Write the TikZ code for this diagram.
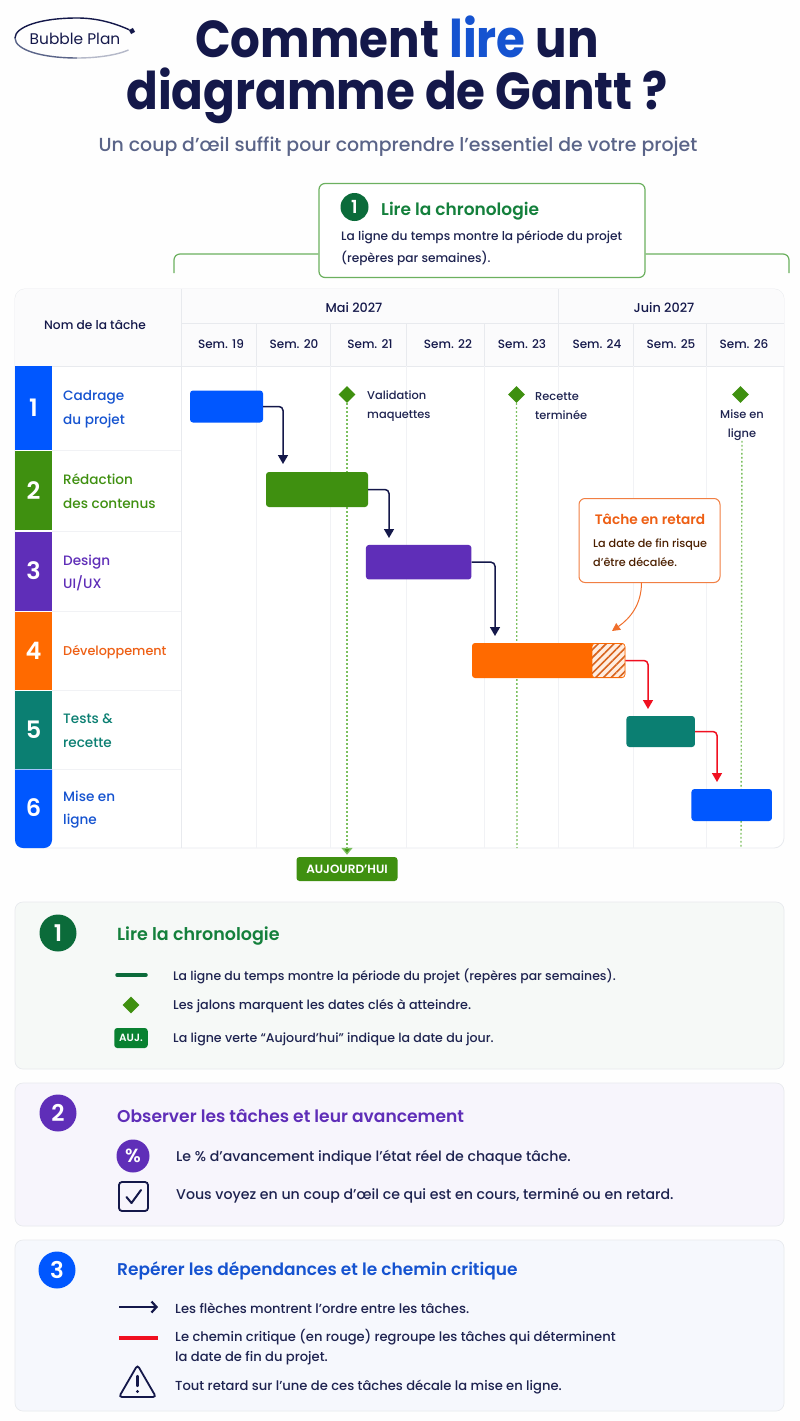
\documentclass[tikz,border=0pt]{standalone}
\usepackage{fontspec}
\usetikzlibrary{arrows.meta,shapes.geometric,patterns.meta}
\setmainfont{Poppins}[UprightFont=* Medium,BoldFont=* SemiBold]
\newfontfamily\titlefont[FakeStretch=0.9]{Poppins}
\newfontfamily\logofont{Poppins}
\definecolor{ink}{HTML}{14184A}
\definecolor{inkbody}{HTML}{1E2350}
\definecolor{subtle}{HTML}{5A6488}
\definecolor{grille}{HTML}{E8EAEE}
\definecolor{grillepale}{HTML}{F1F2F5}
\definecolor{entete}{HTML}{FBFBFC}
\definecolor{bleu}{HTML}{0057FF}
\definecolor{bleutexte}{HTML}{1553D0}
\definecolor{vert}{HTML}{3F9010}
\definecolor{violet}{HTML}{5F2EB8}
\definecolor{orange}{HTML}{FF6A00}
\definecolor{orangetexte}{HTML}{EE5F14}
\definecolor{hachure}{HTML}{D8641E}
\definecolor{sarcelle}{HTML}{0B7F72}
\definecolor{rouge}{HTML}{F01020}
\definecolor{vertsombre}{HTML}{0B6B3A}
\definecolor{verttexte}{HTML}{14803C}
\definecolor{pointille}{HTML}{7CC060}
\definecolor{cadrevert}{HTML}{6CB05F}
\definecolor{fondvert}{HTML}{F6F9F7}
\definecolor{fondviolet}{HTML}{F7F5FC}
\definecolor{fondbleu}{HTML}{F6F8FD}
\tikzset{
  txt/.style={inner sep=0pt,anchor=west,align=left,text=inkbody,yshift=-1.2pt},
  mid/.style={inner sep=0pt,align=center,text=ink},
  rowblock/.style={inner sep=0pt,minimum width=37pt,text=white,font=\fontsize{24}{28}\selectfont\bfseries},
  rowlabel/.style={txt,font=\fontsize{13.6}{23.5}\selectfont},
  week/.style={mid,font=\fontsize{12}{15}\selectfont},
  milestonelabel/.style={txt,font=\fontsize{11.4}{19}\selectfont},
  bar/.style={rectangle,rounded corners=3pt,inner sep=0pt},
  jalon/.style={diamond,fill=vert,inner sep=0pt,minimum width=17pt,minimum height=17pt},
  depline/.style={ink,line width=1.5pt,rounded corners=4pt,-{Triangle[length=9pt,width=10pt]}},
  critline/.style={depline,rouge},
  dotline/.style={pointille,line width=1.4pt,dash pattern=on 1.8pt off 2.2pt},
  panel/.style={rectangle,rounded corners=8pt,inner sep=0pt,minimum width=769pt,draw=grille,line width=.7pt},
  numdot/.style={circle,inner sep=0pt,minimum size=37pt,text=white,font=\fontsize{23}{26}\selectfont\bfseries},
  paneltitle/.style={txt,font=\fontsize{17.1}{22}\selectfont\bfseries},
  item/.style={txt,font=\fontsize{12.45}{20}\selectfont},
  itemc/.style={txt,font=\fontsize{13.1}{20}\selectfont},
  itembig/.style={txt,font=\fontsize{14.15}{20}\selectfont},
  gridline/.style={grille,line width=.7pt},
  gridpale/.style={grillepale,line width=.7pt}
}
\begin{document}
\begin{tikzpicture}[x=1pt,y=-1pt]
\useasboundingbox (0,0) rectangle (800,1421);
\fill[white!99!gray] (0,0) rectangle (800,1421);

\begin{scope}
\node[rectangle,fill=ink,inner sep=0pt,minimum size=4.5pt,rotate=30] (logoDot) at (132,31) {};
\draw[ink,line width=1.4pt] (logoDot) .. controls (112,22) and (95,18) .. (77,18) .. controls (40,18) and (15,27) .. (15,38);
\draw[subtle,line width=1.4pt] (15,38) .. controls (15,50) and (42,58) .. (77,58);
\draw[subtle!45!white,line width=1.4pt] (77,58) .. controls (98,58) and (117,55) .. (128.5,50);
\node[mid,font=\logofont\fontsize{15.4}{17}\selectfont] (logoText) at (75,39) {Bubble Plan};
\end{scope}

\node[mid,font=\titlefont\fontsize{52}{56}\selectfont\bfseries] (titreA) at (397,37) {Comment \textcolor{bleutexte}{lire} un};
\node[mid,font=\titlefont\fontsize{52}{56}\selectfont\bfseries] (titreB) at (397,96) {diagramme de Gantt ?};
\node[mid,text=subtle,font=\fontsize{18.9}{24}\selectfont] (sousTitre) at (398,147) {Un coup d’œil suffit pour comprendre l’essentiel de votre projet};

\begin{scope}
\node[bar,rounded corners=6pt,draw=cadrevert,line width=1.2pt,fill=white,minimum width=326pt,minimum height=94pt] (boxChrono) at (482,230.5) {};
\coordinate (bracketA) at (174,273);
\coordinate (bracketB) at (789,273);
\draw[cadrevert,line width=1.2pt,rounded corners=6pt] (bracketA) |- (boxChrono.west |- 0,254);
\draw[cadrevert,line width=1.2pt,rounded corners=6pt] (bracketB) |- (boxChrono.east |- 0,254);
\node[circle,fill=vertsombre,inner sep=0pt,minimum size=28pt,text=white,font=\fontsize{18}{20}\selectfont\bfseries] (numChrono) at (354.5,207) {1};
\node[txt,text=verttexte,font=\fontsize{17}{20}\selectfont\bfseries] (titreChrono) at (381,210) {Lire la chronologie};
\node[txt,font=\fontsize{12.2}{22}\selectfont] (texteChrono) at (341,247) {La ligne du temps montre la période du projet\\(repères par semaines).};
\end{scope}

\begin{scope}
\node[bar,rounded corners=10pt,fill=white,draw=grille,line width=.8pt,minimum width=769pt,minimum height=559pt] (tableau) at (399.5,568.5) {};
\fill[entete] (15,366) [rounded corners=10pt] -- (15,289) -- (784,289) [sharp corners] -- (784,366) -- cycle;
\draw[gridline] (181,323) -- (784,323);
\draw[gridline] (15,366) -- (784,366);
\draw[gridline] (181,289) -- (181,848);
\draw[gridline] (558.5,289) -- (558.5,323);
\draw[gridline] (256,323) -- (256,366) (330,323) -- (330,366) (406.5,323) -- (406.5,366) (484.5,323) -- (484.5,366) (558.5,323) -- (558.5,366) (633,323) -- (633,366) (706.5,323) -- (706.5,366);
\draw[gridpale] (256,366) -- (256,848) (330,366) -- (330,848) (406.5,366) -- (406.5,848) (484.5,366) -- (484.5,848) (558.5,366) -- (558.5,848) (633,366) -- (633,848) (706.5,366) -- (706.5,848);
\draw[gridpale] (52,450) -- (181,450) (52,531) -- (181,531) (52,611) -- (181,611) (52,690) -- (181,690) (52,769) -- (181,769);
\node[mid,font=\fontsize{12.2}{15}\selectfont] (nomTache) at (95,325) {Nom de la tâche};
\node[mid,font=\fontsize{12.8}{15}\selectfont] (moisMai) at (354,307.5) {Mai 2027};
\node[mid,font=\fontsize{12.8}{15}\selectfont] (moisJuin) at (664,307.5) {Juin 2027};
\node[week] (semA) at (221,344) {Sem. 19};
\node[week] (semB) at (294,344) {Sem. 20};
\node[week] (semC) at (370,344) {Sem. 21};
\node[week] (semD) at (448,344) {Sem. 22};
\node[week] (semE) at (522,344) {Sem. 23};
\node[week] (semF) at (597,344) {Sem. 24};
\node[week] (semG) at (671,344) {Sem. 25};
\node[week] (semH) at (744,344) {Sem. 26};
\end{scope}

\begin{scope}
\node[rowblock,fill=bleu,minimum height=83.5pt] (numA) at (33.5,408) {1};
\node[rowblock,fill=vert,minimum height=79.5pt] (numB) at (33.5,490.5) {2};
\node[rowblock,fill=violet,minimum height=79pt] (numC) at (33.5,571) {3};
\node[rowblock,fill=orange,minimum height=78pt] (numD) at (33.5,650.5) {4};
\node[rowblock,fill=sarcelle,minimum height=78pt] (numE) at (33.5,729.5) {5};
\fill[bleu] (52,769.5) -- (15,769.5) [rounded corners=8pt] -- (15,848) -- (52,848) [sharp corners] -- cycle;
\node[rowblock] (numF) at (33.5,808) {6};
\node[rowlabel,text=bleutexte] (tacheA) at (63,408) {Cadrage\\du projet};
\node[rowlabel,text=vert] (tacheB) at (63,490) {Rédaction\\des contenus};
\node[rowlabel,text=violet] (tacheC) at (63,571.5) {Design\\UI/UX};
\node[rowlabel,text=orangetexte,font=\fontsize{12.8}{20}\selectfont] (tacheD) at (63,651) {Développement};
\node[rowlabel,text=sarcelle] (tacheE) at (63,729.5) {Tests \&\\recette};
\node[rowlabel,text=bleutexte] (tacheF) at (63,808.5) {Mise en\\ligne};
\end{scope}

\begin{scope}
\node[jalon] (jalonA) at (347,394.5) {};
\node[jalon] (jalonB) at (516.5,394.5) {};
\node[jalon] (jalonC) at (740.5,394.5) {};
\node[milestonelabel] (labelA) at (367,405) {Validation\\maquettes};
\node[milestonelabel] (labelB) at (535,404.5) {Recette\\terminée};
\node[milestonelabel,anchor=center,align=center] (labelC) at (742,424) {Mise en\\ligne};
\node[bar,fill=vert,text=white,minimum width=101pt,minimum height=24pt,font=\fontsize{12}{14}\selectfont\bfseries] (auj) at (347,869) {AUJOURD’HUI};
\coordinate (finB) at (517,848);
\coordinate (finC) at (741,848);
\draw[dotline] (jalonB) -- (finB);
\draw[dotline] (labelC) -- (finC);
\draw[dotline,shorten >=2pt,-{Triangle[length=7pt,width=11pt,fill=vert]}] (jalonA) -- (auj);
\end{scope}

\begin{scope}
\node[bar,fill=bleu,minimum width=73pt,minimum height=32pt] (barA) at (226.5,406.5) {};
\node[bar,fill=vert,minimum width=102pt,minimum height=35pt] (barB) at (317,489.5) {};
\node[bar,fill=violet,minimum width=105.5pt,minimum height=34.5pt] (barC) at (418.7,562.2) {};
\node[bar,fill=orange,minimum width=153pt,minimum height=35pt] (barD) at (548.5,660.5) {};
\node[bar,fill=orange!12!white,draw=orange,line width=.6pt,minimum width=33pt,minimum height=34pt,postaction={pattern={Lines[angle=45,distance=5.5pt,line width=1.6pt]},pattern color=hachure}] (barLate) at (608.5,660.5) {};
\node[bar,fill=sarcelle,minimum width=68.5pt,minimum height=31pt] (barE) at (660.7,731.5) {};
\node[bar,fill=bleu,minimum width=80.5pt,minimum height=32pt] (barF) at (731.7,805) {};
\coordinate (dropB) at (283,472);
\coordinate (dropC) at (389,545);
\coordinate (dropD) at (495,643);
\coordinate (dropE) at (648,716);
\coordinate (dropF) at (717,789);
\draw[depline,shorten >=8pt] (barA.east) -| (dropB);
\draw[depline,shorten >=7pt] (barB.east) -| (dropC);
\draw[depline,shorten >=7pt] (barC.east) -| (dropD);
\draw[critline,shorten >=7pt] (barLate.east) -| (dropE);
\draw[critline,shorten >=7pt] (barE.east) -| (dropF);
\end{scope}

\begin{scope}
\node[bar,rounded corners=6pt,draw=orangetexte!80,line width=1pt,fill=white,minimum width=141pt,minimum height=84pt] (retard) at (649.5,540.5) {};
\node[mid,text=orangetexte,font=\fontsize{13.7}{16}\selectfont\bfseries] (retardTitre) at (650,519) {Tâche en retard};
\node[txt,text=black!70!orange,font=\fontsize{11.2}{19}\selectfont] (retardTexte) at (593,551.5) {La date de fin risque\\d’être décalée.};
\coordinate (retardDepart) at (641.5,582.5);
\coordinate (retardFin) at (612,631);
\draw[orangetexte!90,line width=1pt,-{Triangle[length=8pt,width=8pt]}] (retardDepart) to[out=270,in=35] (retardFin);
\end{scope}

\begin{scope}
\node[panel,fill=fondvert,minimum height=167pt] (panelA) at (399.5,985.5) {};
\node[numdot,fill=vertsombre] (panelNumA) at (58,933) {1};
\node[paneltitle,text=verttexte,font=\fontsize{17.5}{22}\selectfont\bfseries] (panelTitreA) at (117,935) {Lire la chronologie};
\coordinate (ligneA) at (117,975);
\coordinate (ligneB) at (146,975);
\draw[vertsombre,line width=3.5pt,line cap=round] (ligneA) -- (ligneB);
\node[item] (itemA) at (173,975) {La ligne du temps montre la période du projet (repères par semaines).};
\node[jalon] (itemJalon) at (131,1005) {};
\node[item,font=\fontsize{12.75}{20}\selectfont] (itemB) at (173,1005) {Les jalons marquent les dates clés à atteindre.};
\node[bar,fill=vertsombre!85!green,text=white,minimum width=33.5pt,minimum height=20pt,font=\fontsize{10.5}{12}\selectfont\bfseries] (itemAuj) at (131,1038) {AUJ.};
\node[item,font=\fontsize{12.6}{20}\selectfont] (itemC) at (173,1038) {La ligne verte “Aujourd’hui” indique la date du jour.};
\end{scope}

\begin{scope}
\node[panel,fill=fondviolet,minimum height=143pt] (panelB) at (399.5,1154.5) {};
\node[numdot,fill=violet] (panelNumB) at (58,1113) {2};
\node[paneltitle,text=violet] (panelTitreB) at (117,1115) {Observer les tâches et leur avancement};
\node[circle,fill=violet,text=white,inner sep=0pt,minimum size=33pt,font=\fontsize{19}{22}\selectfont\bfseries] (iconPct) at (133,1156) {\%};
\node[itembig] (itemD) at (176,1157) {Le \% d’avancement indique l’état réel de chaque tâche.};
\node[bar,draw=ink,line width=1.8pt,minimum size=29pt] (iconCheck) at (133.5,1196.5) {};
\draw[ink,line width=2pt,line cap=round,line join=round] (126.5,1197) -- (131.5,1203) -- (141,1190);
\node[itembig] (itemE) at (176,1195) {Vous voyez en un coup d’œil ce qui est en cours, terminé ou en retard.};
\end{scope}

\begin{scope}
\node[panel,fill=fondbleu,minimum height=171pt] (panelC) at (399.5,1325.5) {};
\node[numdot,fill=bleu] (panelNumC) at (57,1270) {3};
\node[paneltitle,text=bleutexte,font=\fontsize{17}{22}\selectfont\bfseries] (panelTitreC) at (117,1270) {Repérer les dépendances et le chemin critique};
\coordinate (flecheA) at (119,1307);
\coordinate (flecheB) at (158,1307);
\draw[ink,line width=2.2pt,-{Straight Barb[length=5pt,width=11pt]}] (flecheA) -- (flecheB);
\node[itemc] (itemF) at (175,1307) {Les flèches montrent l’ordre entre les tâches.};
\coordinate (rougeA) at (119,1338);
\coordinate (rougeB) at (158,1338);
\draw[rouge,line width=3.2pt] (rougeA) -- (rougeB);
\node[itemc] (itemG) at (175,1346) {Le chemin critique (en rouge) regroupe les tâches qui déterminent\\la date de fin du projet.};
\draw[ink,line width=1.8pt,rounded corners=3pt] (137.5,1365) -- (156,1397) -- (119,1397) -- cycle;
\draw[ink,line width=2.2pt,line cap=round] (137.5,1376) -- (137.5,1386);
\fill[ink] (137.5,1391.5) circle[radius=1.6];
\node[itemc] (itemH) at (175,1386) {Tout retard sur l’une de ces tâches décale la mise en ligne.};
\end{scope}
\end{tikzpicture}
\end{document}
